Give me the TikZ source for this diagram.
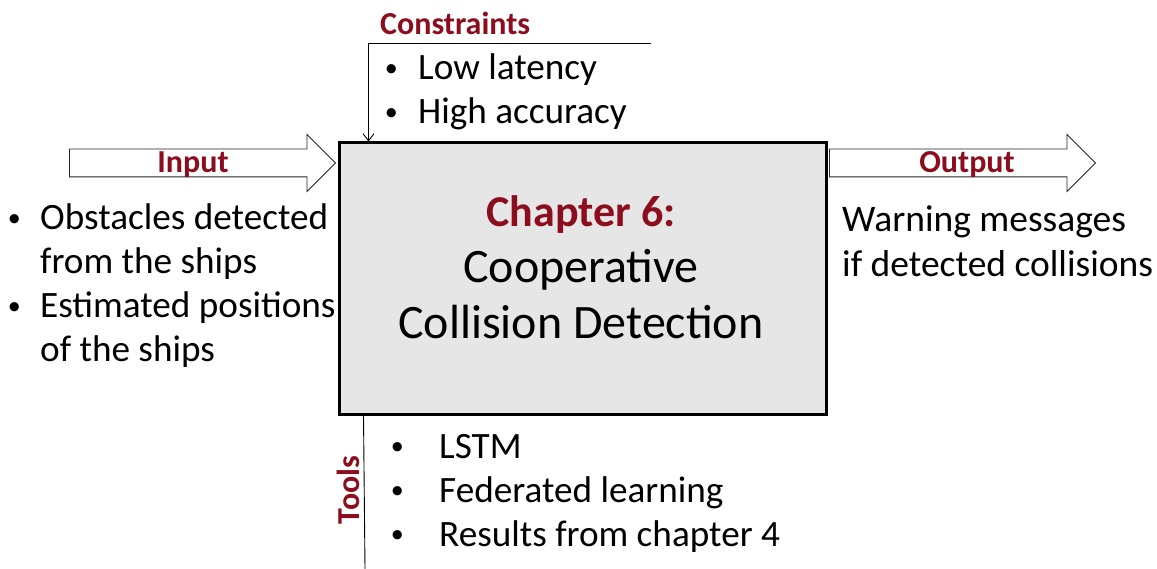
\documentclass[tikz,border=0pt]{standalone}
\usepackage{fontspec}
\setmainfont{Carlito}
\usepackage{xcolor}
\usepackage{tikz}
\usetikzlibrary{arrows.meta,positioning,shapes.arrows}
\definecolor{chred}{RGB}{140,14,30}
\definecolor{boxgray}{RGB}{230,230,230}
\newcommand{\bitem}[1]{\makebox[#1][l]{\hspace{2.7pt}\raisebox{3.7pt}{\scalebox{0.7}{\textbullet}}}}

\begin{document}
\begin{tikzpicture}[
    >={Straight Barb[length=7pt,width=11pt]},
    x=1pt, y=-1pt,
    chbox/.style={draw,line width=3pt,fill=boxgray,minimum width=487pt,
                  minimum height=271pt,inner sep=0pt},
    flow/.style={single arrow,draw=black!85,line width=0.9pt,fill=white,
                 inner sep=0pt,text height=20pt,text depth=7pt,
                 minimum height=266pt,single arrow head extend=14.5pt,
                 single arrow tip angle=90,anchor=tail},
    tag/.style={font=\fontsize{32}{38}\selectfont\bfseries,text=chred,inner sep=0pt},
    items/.style={font=\fontsize{37.2}{44}\selectfont,inner sep=0pt,anchor=base west},
    link/.style={draw=black,line width=0.9pt},
  ]
  \useasboundingbox (0,0) rectangle (1157,569);

  % --- the chapter block ---
  \node[chbox] (ch6) at (582.5,278.5) {};
  \node[inner sep=0pt,anchor=base] (title) at (581,227) {%
    \fontsize{48}{56}\selectfont
    \begin{tabular}[t]{@{}c@{}}
      {\fontsize{44}{56}\selectfont\bfseries\color{chred}Chapter 6:}\\
      Cooperative\\
      Collision Detection
    \end{tabular}};

  % --- input (left) ---
  \node[flow] (inarrow) at (69,163) {};
  \node[tag,anchor=base] (inlabel) at (193,173) {Input};
  \node[items] (inlist) at (5,230) {%
    \begin{tabular}[t]{@{}l@{}}
      \bitem{35pt}Obstacles detected\\
      \hspace*{35pt}from the ships\\
      \bitem{35pt}Estimated positions\\
      \hspace*{35pt}of the ships
    \end{tabular}};

  % --- output (right) ---
  \node[flow] (outarrow) at (829,163) {};
  \node[tag,anchor=base] (outlabel) at (967,173) {Output};
  \node[items,font=\fontsize{37.5}{45}\selectfont] (outlist) at (842,232) {%
    \begin{tabular}[t]{@{}l@{}}
      Warning messages\\
      if detected collisions
    \end{tabular}};

  % --- constraints (top) ---
  \node[tag,anchor=base west] (conlabel) at (380,35) {Constraints};
  \coordinate (conend) at (651,43);
  \coordinate (conin) at ([xshift=31pt]ch6.north west);
  \draw[link,->] (conend) -| (conin);
  \node[items] (conlist) at (382,80) {%
    \begin{tabular}[t]{@{}l@{}}
      \bitem{36pt}Low latency\\
      \bitem{36pt}High accuracy
    \end{tabular}};

  % --- tools (bottom) ---
  \coordinate (toolin) at ([xshift=26pt]ch6.south west);
  \coordinate (toolend) at (365,569);
  \draw[link] (toolin) -- (toolend);
  \node[tag,rotate=90] (toollabel) at (348,490) {Tools};
  \node[items] (toollist) at (388,458) {%
    \begin{tabular}[t]{@{}l@{}}
      \bitem{51pt}LSTM\\
      \bitem{51pt}Federated learning\\
      \bitem{51pt}Results from chapter 4
    \end{tabular}};

\end{tikzpicture}
\end{document}
